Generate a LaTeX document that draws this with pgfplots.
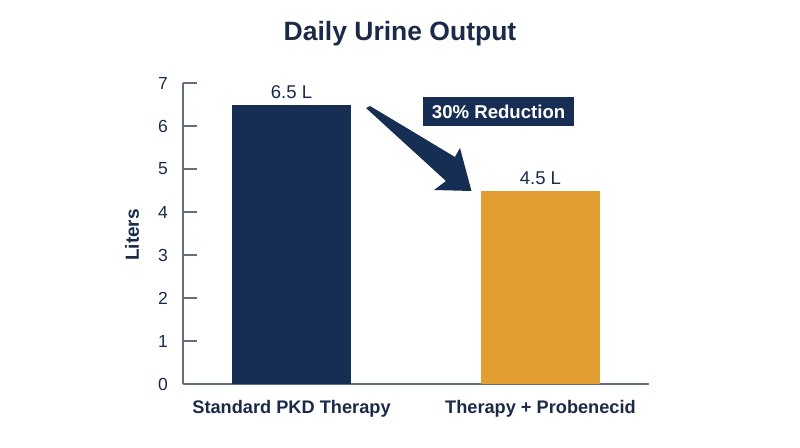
\documentclass[border=0pt]{standalone}
\usepackage{fontspec}
\setmainfont{Liberation Sans}
\usepackage{pgfplots}
\pgfplotsset{compat=1.18}
\definecolor{navy}{RGB}{22,46,84}
\definecolor{gold}{RGB}{225,157,49}
\definecolor{axisgray}{RGB}{100,110,125}
\definecolor{textnavy}{RGB}{26,42,72}
\begin{document}
\begin{tikzpicture}
\path[use as bounding box] (0pt,0pt) rectangle (800pt,447pt);
\begin{axis}[
  at={(183pt,63pt)}, anchor=south west,
  scale only axis, width=466pt, height=301pt,
  xmin=-0.436, xmax=1.436, ymin=0, ymax=7,
  ybar, bar width=119pt, bar shift=0pt,
  axis x line=bottom, axis y line=left,
  axis line style={-, draw=axisgray, line width=1.4pt},
  tick align=inside,
  xtick={0,1}, xticklabels={Standard PKD Therapy, Therapy + Probenecid},
  x tick style={draw=none},
  x tick label style={font=\fontsize{18.2}{20}\selectfont\bfseries, text=textnavy, anchor=base, inner sep=0pt, yshift=-29pt},
  ytick={0,1,2,3,4,5,6,7},
  major tick length=14pt,
  y tick style={draw=axisgray, line width=1.4pt},
  y tick label style={font=\fontsize{17.5}{20}\selectfont, text=textnavy, anchor=east, inner sep=0pt, xshift=-15pt},
  /pgf/number format/assume math mode=true,
  title={Daily Urine Output},
  title style={font=\fontsize{26.5}{30}\selectfont\bfseries, text=textnavy, at={(axis description cs:0.4657,1.1206)}, anchor=base},
  ylabel={Liters},
  ylabel style={font=\fontsize{19}{22}\selectfont\bfseries, text=textnavy, at={(axis description cs:-0.1094,0.495)}, anchor=center},
  nodes near coords={\pgfmathprintnumber[fixed,precision=1,fixed zerofill]{\pgfplotspointmeta} L},
  nodes near coords style={font=\fontsize{18.5}{20}\selectfont, text=textnavy, anchor=base, inner sep=0pt, yshift=6.2pt},
  clip=false,
]
\addplot[fill=navy, draw=none] coordinates {(0,6.5)};
\addplot[fill=gold, draw=none] coordinates {(1,4.5)};
\fill[navy] (axis cs:0.2992,6.4186) -- (axis cs:0.3153,6.4651) -- (axis cs:0.6566,5.2791) -- (axis cs:0.6767,5.4884) -- (axis cs:0.7229,4.4884) -- (axis cs:0.5723,4.5116) -- (axis cs:0.6205,4.7209) -- cycle;
\node[fill=navy, text=white, font=\fontsize{18.6}{20}\selectfont\bfseries, minimum width=151pt, minimum height=29pt, inner sep=0pt] at (axis cs:0.832,6.333) {30\% Reduction};
\end{axis}
\end{tikzpicture}
\end{document}
